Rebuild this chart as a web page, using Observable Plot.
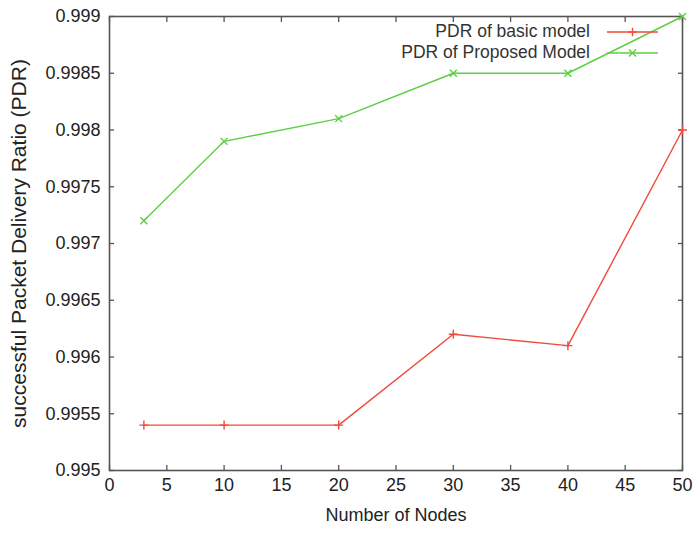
<!DOCTYPE html>
<html>
<head>
<meta charset="utf-8">
<script src="https://cdn.jsdelivr.net/npm/d3@7"></script>
<script src="https://cdn.jsdelivr.net/npm/@observablehq/plot@0.6"></script>
<style>
  html, body { margin: 0; padding: 0; background: #fff; }
  #wrap { position: relative; width: 693px; height: 533px; font-family: "Liberation Sans", Arial, sans-serif; }
  #legend { position: absolute; top: 21px; right: 35px; color: #333; font-size: 17.5px; }
  #legend .row { display: flex; justify-content: flex-end; align-items: center; height: 21px; }
  #legend .row span { margin-right: 17px; white-space: nowrap; }
</style>
</head>
<body>
<div id="wrap"></div>
<script>
const nodes = [3, 10, 20, 30, 40, 50];
const pdrBasic = [0.9954, 0.9954, 0.9954, 0.9962, 0.9961, 0.998];
const pdrProposed = [0.9972, 0.9979, 0.9981, 0.9985, 0.9985, 0.999];
const seriesNames = ["PDR of basic model", "PDR of Proposed Model"];
const seriesSymbols = ["plus", "times"];
const seriesColors = ["#f04a3c", "#5ccf44"];
const xTicks = [0, 5, 10, 15, 20, 25, 30, 35, 40, 45, 50];
const yTicks = [0.995, 0.9955, 0.996, 0.9965, 0.997, 0.9975, 0.998, 0.9985, 0.999];
const xLabel = "Number of Nodes";
const yLabel = "successful Packet Delivery Ratio (PDR)";

const rows = [];
nodes.forEach((n, i) => rows.push({nodes: n, pdr: pdrBasic[i], series: seriesNames[0]}));
nodes.forEach((n, i) => rows.push({nodes: n, pdr: pdrProposed[i], series: seriesNames[1]}));

const axisColor = "#555";
const fmt = d => String(+d.toFixed(4));

const chart = Plot.plot({
  width: 693,
  height: 533,
  marginLeft: 109,
  marginRight: 11,
  marginTop: 16,
  marginBottom: 63,
  style: {fontFamily: "'Liberation Sans', Arial, sans-serif", fontSize: "18px", color: "#222", background: "#fff"},
  x: {domain: [0, 50]},
  y: {domain: [0.995, 0.999]},
  color: {domain: seriesNames, range: seriesColors},
  symbol: {domain: seriesNames, range: seriesSymbols},
  marks: [
    Plot.axisX(xTicks, {anchor: "bottom", tickSize: 0, tickPadding: 8, label: null, fontSize: 18}),
    Plot.axisX(xTicks, {anchor: "bottom", tickSize: -5, fill: "none", stroke: axisColor, strokeWidth: 1.3}),
    Plot.axisX(xTicks, {anchor: "top", tickSize: -5, fill: "none", stroke: axisColor, strokeWidth: 1.3}),
    Plot.axisY(yTicks, {anchor: "left", tickSize: 0, tickPadding: 9, tickFormat: fmt, label: null, fontSize: 18}),
    Plot.axisY(yTicks, {anchor: "left", tickSize: -5, fill: "none", stroke: axisColor, strokeWidth: 1.3}),
    Plot.axisY(yTicks, {anchor: "right", tickSize: -5, fill: "none", stroke: axisColor, strokeWidth: 1.3}),
    Plot.frame({stroke: axisColor, strokeWidth: 1.6}),
    Plot.line(rows, {x: "nodes", y: "pdr", z: "series", stroke: "series", strokeWidth: 1.4}),
    Plot.dot(rows, {x: "nodes", y: "pdr", stroke: "series", symbol: "series", fill: "none", r: d => d.series === seriesNames[0] ? 2.8 : 3.3, strokeWidth: 1.4}),
    Plot.text([xLabel], {frameAnchor: "bottom", dy: 50, fontSize: 18, fill: "#222"}),
    Plot.text([yLabel], {frameAnchor: "left", textAnchor: "middle", dx: -90, rotate: -90, fontSize: 21, fill: "#222"})
  ]
});

const wrap = document.getElementById("wrap");
wrap.appendChild(chart);

// legend
const legend = document.createElement("div");
legend.id = "legend";
seriesNames.forEach((name, i) => {
  const row = document.createElement("div");
  row.className = "row";
  const span = document.createElement("span");
  span.textContent = name;
  row.appendChild(span);
  const svg = d3.create("svg").attr("width", 51).attr("height", 12);
  svg.append("line").attr("x1", 0).attr("x2", 51).attr("y1", 6).attr("y2", 6)
    .attr("stroke", seriesColors[i]).attr("stroke-width", 1.4);
  const sym = i === 0 ? d3.symbolPlus : d3.symbolTimes;
  const size = i === 0 ? Math.PI * 2.8 * 2.8 : Math.PI * 3.3 * 3.3;
  svg.append("path").attr("d", d3.symbol(sym, size)()).attr("transform", "translate(25.5,6)")
    .attr("fill", "none").attr("stroke", seriesColors[i]).attr("stroke-width", 1.4);
  row.appendChild(svg.node());
  legend.appendChild(row);
});
wrap.appendChild(legend);
</script>
</body>
</html>
